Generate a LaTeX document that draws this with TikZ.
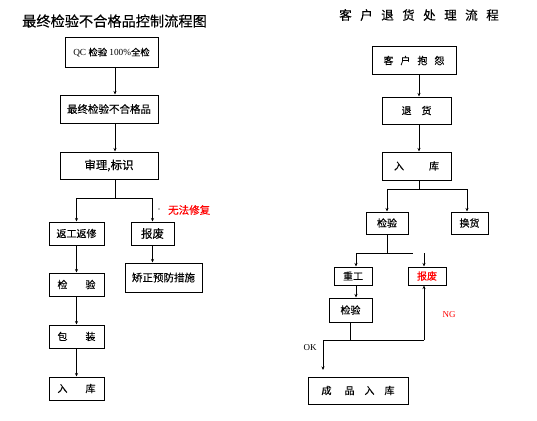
\documentclass[tikz,border=0pt]{standalone}
\usepackage{fontspec}
\setmainfont{Liberation Serif}
\newfontfamily\cjk{Noto Sans CJK SC}[FakeBold=0.25]
\usetikzlibrary{arrows.meta}
\begin{document}
\begin{tikzpicture}[x=1pt,y=-1pt,
  box/.style={draw, line width=1pt, inner sep=0pt, font=\cjk\fontsize{10}{12}\selectfont},
  ln/.style={line width=0.75pt},
  arr/.style={ln, -{Stealth[length=3.5pt,width=3pt]}},
  ttl/.style={font=\cjk\fontsize{14.2}{16}\selectfont, inner sep=0pt}]
\useasboundingbox[fill=white] (0,0) rectangle (537,420);

% ---------- left ----------
\node[ttl] (t1) at (114.5,21) {最终检验不合格品控制流程图};
\node[box, minimum width=93pt, minimum height=29pt] (qc) at (111.5,52.5)
  {\fontsize{9.3}{11}\selectfont{\rmfamily QC }检验{\rmfamily\ 100\%}全检};
\node[box, minimum width=98pt, minimum height=28pt, font=\cjk\fontsize{10.5}{12}\selectfont] (zz) at (109,109) {最终检验不合格品};
\node[box, minimum width=98pt, minimum height=27pt, font=\cjk\fontsize{11.5}{13}\selectfont] (sl) at (109,165.5) {审理,标识};
\node[box, minimum width=55pt, minimum height=23pt] (fg) at (76.5,233.5) {返工返修};
\node[box, minimum width=43pt, minimum height=23pt, font=\cjk\fontsize{11.5}{13}\selectfont] (bf) at (152.5,233.5) {报废};
\node[box, minimum width=77pt, minimum height=29pt, font=\cjk\fontsize{10.5}{12}\selectfont] (jz) at (163.5,277.5) {矫正预防措施};
\node[box, minimum width=55pt, minimum height=23pt] (jy) at (76.5,284.5) {检\hspace{1.8em}验};
\node[box, minimum width=55pt, minimum height=23pt] (bz) at (76.5,336.5) {包\hspace{1.8em}装};
\node[box, minimum width=55pt, minimum height=23pt] (rk) at (76.5,388.5) {入\hspace{1.8em}库};
\node[font=\cjk\fontsize{10.5}{12}\selectfont, text=red, inner sep=0pt, anchor=west] (wf) at (168,210) {无法修复};
\node[fill=black, circle, inner sep=0pt, minimum size=1.3pt] (dot) at (159,209) {};

\coordinate (c1) at (115,0);
\coordinate (j1) at (115,198);
\draw[arr] (qc.south -| c1) -- (zz.north -| c1);
\draw[arr] (zz.south -| c1) -- (sl.north -| c1);
\draw[ln] (sl.south -| c1) -- (j1);
\draw[arr] (j1) -| (fg.north);
\draw[arr] (j1) -| (bf.north);
\draw[arr] (bf.south) -- (bf.south |- jz.north);
\draw[arr] (fg) -- (jy);
\draw[arr] (jy) -- (bz);
\draw[arr] (bz) -- (rk);

% ---------- right ----------
\node[ttl, font=\cjk\fontsize{12.5}{15}\selectfont] (t2) at (419,15) {客\hspace{0.68em}户\hspace{0.68em}退\hspace{0.68em}货\hspace{0.68em}处\hspace{0.68em}理\hspace{0.68em}流\hspace{0.68em}程};
\node[box, minimum width=84pt, minimum height=27pt] (kh) at (414,60.5) {客\hspace{0.7em}户\hspace{0.7em}抱\hspace{0.7em}怨};
\node[box, minimum width=69pt, minimum height=27pt] (th) at (416.5,110.5) {退\hspace{1em}货};
\node[box, minimum width=69pt, minimum height=28pt] (rk2) at (416.5,166) {入\hspace{2.5em}库};
\node[box, minimum width=42pt, minimum height=22pt] (jy2) at (387,223) {检验};
\node[box, minimum width=37pt, minimum height=22pt] (hh) at (469.5,223) {换货};
\node[box, minimum width=38pt, minimum height=18pt] (cg) at (353,276) {重工};
\node[box, minimum width=38pt, minimum height=18pt, text=red] (bf2) at (427,276) {报废};
\node[box, minimum width=43pt, minimum height=24pt] (jy3) at (350.5,310) {检验};
\node[box, minimum width=100pt, minimum height=27pt] (cp) at (358,390.5) {成\hspace{1.3em}品\hspace{1em}入\hspace{1em}库};
\node[text=red, font=\fontsize{9}{11}\selectfont, inner sep=0pt] (ng) at (449,314.5) {NG};
\node[font=\fontsize{9}{11}\selectfont, inner sep=0pt] (ok) at (310,347.5) {OK};

\coordinate (c2) at (419,0);
\coordinate (j2) at (419,189);
\coordinate (j2l) at (387,189);
\coordinate (j2r) at (467,189);
\coordinate (j3) at (387,253);
\coordinate (j3l) at (356,253);
\coordinate (j3r) at (413,253);
\coordinate (n1) at (424,253);
\coordinate (j4) at (350,340);
\coordinate (j4l) at (323,340);
\coordinate (j4r) at (424,340);
\coordinate (e1) at (323,370);

\draw[arr] (kh.south -| c2) -- (th.north -| c2);
\draw[arr] (th.south -| c2) -- (rk2.north -| c2);
\draw[ln] (rk2.south -| c2) -- (j2);
\draw[ln] (j2l) -- (j2r);
\draw[arr] (j2l) -- (jy2.north);
\draw[arr] (j2r) -- (j2r |- hh.north);
\draw[ln] (jy2.south) -- (j3);
\draw[ln] (j3l) -- (j3r);
\draw[arr] (j3l) -- (j3l |- cg.north);
\draw[arr] (n1) -- (n1 |- bf2.north);
\draw[arr] (j3l |- cg.south) -- (j3l |- jy3.north);
\draw[ln] (jy3.south -| j4) -- (j4);
\draw[ln] (j4l) -- (j4r);
\draw[arr] (j4r) -- (j4r |- bf2.south);
\draw[arr] (j4l) -- (e1);
\end{tikzpicture}
\end{document}
